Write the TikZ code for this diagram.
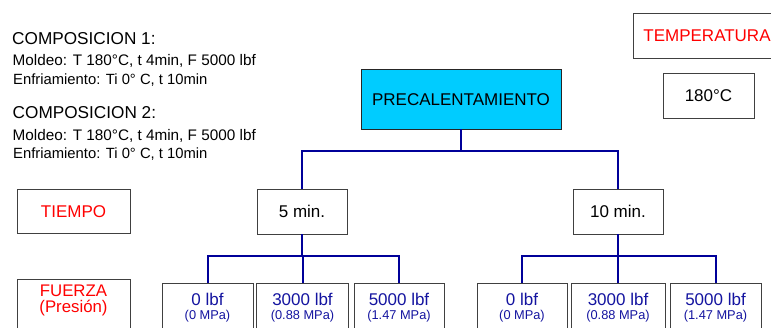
\documentclass[tikz,border=0pt]{standalone}
\usepackage{fontspec}
\setmainfont{Liberation Sans}
\definecolor{boxgray}{RGB}{64,64,64}
\definecolor{wireblue}{RGB}{0,0,153}
\definecolor{headcyan}{RGB}{0,204,255}
\definecolor{labelred}{RGB}{255,0,0}
\definecolor{numblue}{RGB}{20,20,160}
\begin{document}
\begin{tikzpicture}[x=1pt,y=-1pt,
  box/.style={draw=boxgray, line width=0.9pt, fill=white, rectangle, inner sep=0pt,
    font=\fontsize{17}{18}\selectfont, text height=12.2pt, text depth=0pt},
  redtxt/.style={text=labelred},
  wire/.style={draw=wireblue, line width=2pt},
  info/.style={anchor=base west, inner sep=0pt},
  big/.style={anchor=base, inner sep=0pt, text=numblue, font=\fontsize{17}{18}\selectfont},
  small/.style={anchor=base, inner sep=0pt, text=numblue, font=\fontsize{12.8}{14}\selectfont},
  side/.style={anchor=base, inner sep=0pt, text=labelred, font=\fontsize{16.8}{18}\selectfont}
]
\useasboundingbox (0,0) rectangle (771,327);
\clip (0,0) rectangle (771,327);

% composition notes
\node[info, font=\fontsize{17.2}{18}\selectfont] (c1) at (12,44) {COMPOSICION 1:};
\node[info, font=\fontsize{15.3}{18}\selectfont] (c1m) at (12.5,65) {Moldeo: T 180°C, t 4min, F 5000 lbf};
\node[info, font=\fontsize{14.8}{18}\selectfont] (c1e) at (13,84) {Enfriamiento: Ti 0° C, t 10min};
\node[info, font=\fontsize{17.2}{18}\selectfont] (c2) at (12.5,118) {COMPOSICION 2:};
\node[info, font=\fontsize{15.3}{18}\selectfont] (c2m) at (12.5,140) {Moldeo: T 180°C, t 4min, F 5000 lbf};
\node[info, font=\fontsize{14.8}{18}\selectfont] (c2e) at (13,158) {Enfriamiento: Ti 0° C, t 10min};

% temperature column
\node[box, redtxt, minimum width=148pt, minimum height=45pt] (temp) at (707,35.5) {TEMPERATURA};
\node[box, minimum width=91pt, minimum height=45pt] (t180) at (708.5,95.5) {180°C};

% tree
\node[box, fill=headcyan, draw=black!85, minimum width=200pt, minimum height=60pt] (pre) at (461,99) {PRECALENTAMIENTO};

\node[box, redtxt, minimum width=113pt, minimum height=44pt] (tiempo) at (73.5,211) {TIEMPO};
\node[box, minimum width=90pt, minimum height=45pt] (m5) at (302,211.5) {5 min.};
\node[box, minimum width=90pt, minimum height=45pt] (m10) at (618,211.5) {10 min.};

\node[box, minimum width=113pt, minimum height=60pt, anchor=north] (fuerza) at (73.5,279) {};
\node[side] (fz1) at ([yshift=-17pt]fuerza.north) {FUERZA};
\node[side] (fz2) at ([yshift=-33pt]fuerza.north) {(Presión)};

\coordinate (j1) at (461,151);
\coordinate (j2) at (302,256);
\coordinate (j3) at (618,256);

\draw[wire] (pre.south) -- (j1);
\draw[wire] (j1) -| (m5.north);
\draw[wire] (j1) -| (m10.north);
\draw[wire] (m5.south) -- (j2);
\draw[wire] (m10.south) -- (j3);

% force boxes: name / centre x / width / force / pressure / branch point
\foreach \n/\x/\w/\f/\p/\j in {b1/207.5/91/0 lbf/(0 MPa)/j2, b2/302.5/92/3000 lbf/(0.88 MPa)/j2,
  b3/399/90/5000 lbf/(1.47 MPa)/j2, b4/522/90/0 lbf/(0 MPa)/j3,
  b5/618/94/3000 lbf/(0.88 MPa)/j3, b6/715.5/91/5000 lbf/(1.47 MPa)/j3}{
  \draw[wire] (\j) -| (\x,283);
  \node[box, minimum width=\w pt, minimum height=60pt, anchor=north] (\n) at (\x,283) {};
  \node[big] (\n f) at ([yshift=-22pt]\n.north) {\f};
  \node[small] (\n p) at ([yshift=-36pt]\n.north) {\p};
}
\end{tikzpicture}
\end{document}
